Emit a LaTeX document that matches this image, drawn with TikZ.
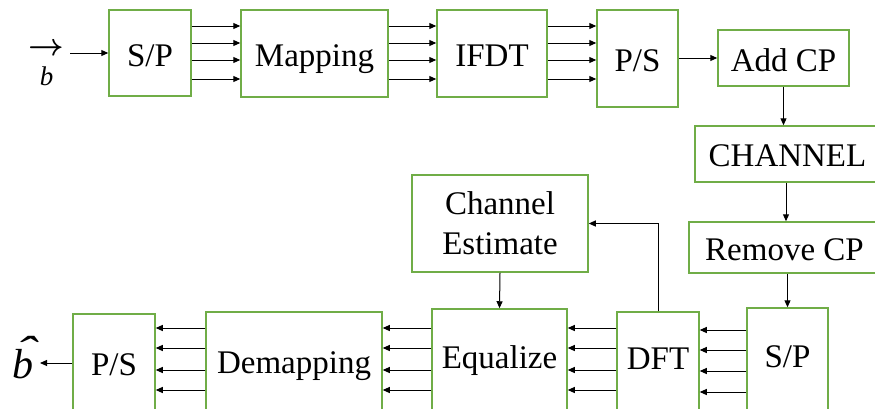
\documentclass[tikz,border=0pt]{standalone}
\usepackage{graphicx}
\usepackage{fontspec}
\setmainfont{Liberation Serif}
\newfontfamily\boxfont{Liberation Serif}
\usetikzlibrary{arrows.meta}
\tikzset{
  blk/.style={draw={rgb,255:red,112;green,173;blue,71}, line width=1.5pt, fill=white,
              inner sep=0pt, align=center, font=\boxfont\fontsize{33}{40}\selectfont},
  txt/.style 2 args={text height=#1pt, text depth=#2pt},
  arr/.style={draw=black, line width=1pt, -{Triangle[length=7pt,width=6pt]}},
}
\newcommand{\vecarrow}{\scalebox{3.1}{\fontsize{10}{10}\selectfont\boldmath$\rightarrow$}}
\begin{document}
\begin{tikzpicture}[x=1pt,y=-1pt]
\useasboundingbox (0,0) rectangle (875,408);
\clip (0,0) rectangle (875,408);

% transmitter chain
\node[blk, txt={26}{0}, minimum width=82pt,  minimum height=86pt] (sp1)   at (150,53)    {S/P};
\node[blk, txt={26}{0}, minimum width=147pt, minimum height=87pt] (map)   at (314.5,53.5) {Mapping};
\node[blk, txt={26}{0}, minimum width=110pt, minimum height=87pt] (ifdt)  at (492,53.5)  {IFDT};
\node[blk, txt={26}{0}, minimum width=81pt,  minimum height=97pt] (ps1)   at (637.5,58.5) {P/S};
\node[blk, txt={26}{0}, minimum width=131pt, minimum height=56pt] (addcp) at (783.5,58)  {Add CP};

% channel and CP removal
\node[blk, txt={24}{0}, minimum width=185pt, minimum height=56pt] (chan)  at (787.5,154) {CHANNEL};
\node[blk, txt={25}{0}, minimum width=191pt, minimum height=51pt] (rmcp)  at (784.5,247.5) {Remove CP};

% receiver chain (boxes run past the lower edge)
\node[blk, txt={22}{6}, minimum width=81pt,  minimum height=102pt] (sp2)   at (787.5,359)  {S/P};
\node[blk, txt={22}{6}, minimum width=82pt,  minimum height=98pt]  (dft)   at (658,361)    {DFT};
\node[blk, txt={22}{5}, minimum width=135pt, minimum height=101pt] (eq)    at (499.5,359.5) {Equalize};
\node[blk, minimum width=176pt, minimum height=97pt]  (chest) at (500,223.5)  {Channel\\Estimate};
\node[blk, txt={24}{0}, minimum width=176pt, minimum height=98pt]  (demap) at (294,361)    {Demapping};
\node[blk, txt={26}{0}, minimum width=82pt,  minimum height=96pt]  (ps2)   at (114,362)    {P/S};

% input and output symbols
\node[anchor=base, inner sep=0pt, font=\boxfont\itshape\fontsize{27}{27}\selectfont] (bin) at (46.5,85)
  {\makebox[0pt]{\raisebox{30pt}{\vecarrow}}\makebox[0pt]{b}};
\node[anchor=base, inner sep=0pt, font=\boxfont\itshape\fontsize{42}{42}\selectfont] (bout) at (23,378)
  {\makebox[0pt]{\raisebox{13pt}{\hspace{5pt}\scalebox{1.5}[1]{ˆ}}}\makebox[0pt]{b}};
\coordinate (inStart) at (70,53);
\coordinate (outEnd) at (40,363);

\draw[arr] (inStart) -- (sp1.west |- inStart);
\draw[arr] (ps2.west |- outEnd) -- (outEnd);

% parallel streams, transmitter
\foreach \yy in {26,43,60,79} {
  \draw[arr] (sp1.east |- 0,\yy) -- (map.west |- 0,\yy);
  \draw[arr] (map.east |- 0,\yy) -- (ifdt.west |- 0,\yy);
  \draw[arr] (ifdt.east |- 0,\yy) -- (ps1.west |- 0,\yy);
}
\draw[arr] (ps1.east |- addcp.west) -- (addcp.west);

% vertical links on the right
\draw[arr] (addcp.south) -- (addcp.south |- chan.north);
\draw[arr] (786,0 |- chan.south) -- (786,0 |- rmcp.north);
\draw[arr] (sp2.north |- rmcp.south) -- (sp2.north);

% parallel streams, receiver
\foreach \yy in {330,350,371,392} {
  \draw[arr] (sp2.west |- 0,\yy) -- (dft.east |- 0,\yy);
}
\foreach \yy in {328,348,370,390} {
  \draw[arr] (dft.west |- 0,\yy) -- (eq.east |- 0,\yy);
  \draw[arr] (eq.west |- 0,\yy) -- (demap.east |- 0,\yy);
  \draw[arr] (demap.west |- 0,\yy) -- (ps2.east |- 0,\yy);
}

% channel estimation path
\draw[arr] (dft.north) |- (chest.east);
\draw[arr] (chest.south) -- (eq.north);
\end{tikzpicture}
\end{document}
